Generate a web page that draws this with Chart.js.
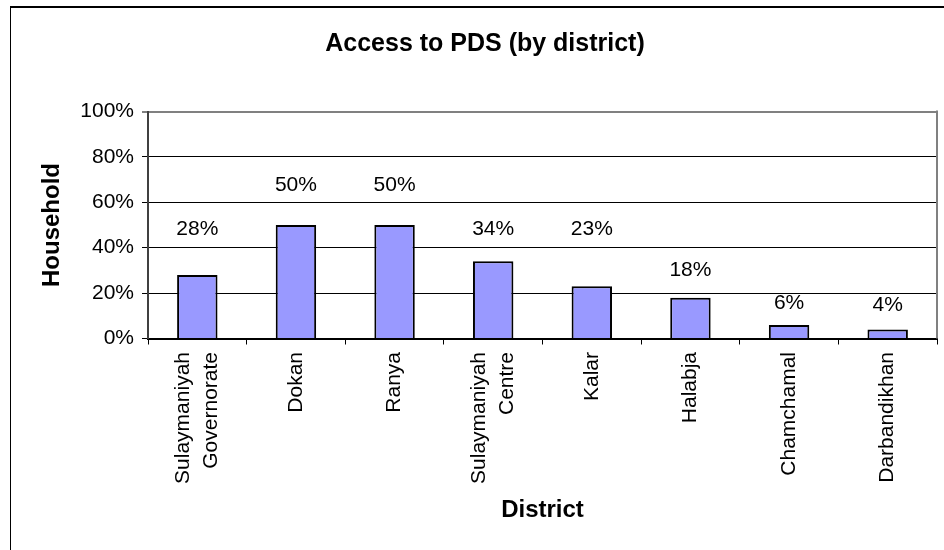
<!DOCTYPE html>
<html>
<head>
<meta charset="utf-8">
<script src="https://cdn.jsdelivr.net/npm/chart.js@4.4.1/dist/chart.umd.min.js"></script>
<style>
html,body{margin:0;padding:0;background:#fff;}
#wrap{width:944px;height:550px;position:relative;}
</style>
</head>
<body>
<div id="wrap"><canvas id="c"></canvas></div>
<script>
const categories = [["Sulaymaniyah","Governorate"],"Dokan","Ranya",["Sulaymaniyah","Centre"],"Kalar","Halabja","Chamchamal","Darbandikhan"];
const householdPct = [28,50,50,34,23,18,6,4];
// vertical level (in % axis units) at which each value label sits
const labelLevels = [48,67.6,67.6,48,48,30.2,15.6,14.5];
const yTicks = [0,20,40,60,80,100];

const FONT = '"Liberation Sans", Arial, Helvetica, sans-serif';
Chart.defaults.font.family = FONT;
Chart.defaults.color = '#000';

const framePlugin = {
  id: 'frame',
  beforeDraw(chart) {
    const ctx = chart.ctx;
    ctx.save();
    ctx.fillStyle = '#fff';
    ctx.fillRect(0, 0, chart.width, chart.height);
    ctx.restore();
  },
  afterDraw(chart) {
    const {ctx, chartArea: a} = chart;
    ctx.save();
    ctx.fillStyle = '#000';
    ctx.fillRect(10, 6, chart.width - 10, 2);
    ctx.fillRect(10, 6, 1, chart.height - 6);
    ctx.strokeStyle = '#808080';
    ctx.lineWidth = 2;
    ctx.beginPath();
    ctx.moveTo(a.right, a.top - 1);
    ctx.lineTo(a.right, a.bottom);
    ctx.stroke();
    ctx.restore();
  }
};

const xLabelPlugin = {
  id: 'xLabels',
  afterDraw(chart) {
    const {ctx} = chart;
    const x = chart.scales.x;
    ctx.save();
    ctx.font = '21px ' + FONT;
    ctx.fillStyle = '#000';
    ctx.textAlign = 'right';
    ctx.textBaseline = 'middle';
    chart.data.labels.forEach((lab, i) => {
      const lines = Array.isArray(lab) ? lab : [lab];
      const px = x.getPixelForValue(i);
      lines.forEach((t, j) => {
        const off = (j - (lines.length - 1) / 2) * 28;
        ctx.save();
        ctx.translate(px + off, x.top + 13.5);
        ctx.rotate(-Math.PI / 2);
        ctx.fillText(t, 0, 0);
        ctx.restore();
      });
    });
    ctx.restore();
  }
};

const valueLabelPlugin = {
  id: 'valueLabels',
  afterDatasetsDraw(chart) {
    const {ctx} = chart;
    const y = chart.scales.y;
    const meta = chart.getDatasetMeta(0);
    ctx.save();
    ctx.font = '21px ' + FONT;
    ctx.fillStyle = '#000';
    ctx.textAlign = 'center';
    ctx.textBaseline = 'middle';
    meta.data.forEach((bar, i) => {
      ctx.fillText(householdPct[i] + '%', bar.x, y.getPixelForValue(labelLevels[i]));
    });
    ctx.restore();
  }
};

new Chart(document.getElementById('c'), {
  type: 'bar',
  data: {
    labels: categories,
    datasets: [{
      data: householdPct,
      backgroundColor: '#9999FF',
      borderColor: '#000',
      borderWidth: 2,
      borderSkipped: 'bottom',
      barPercentage: 0.41,
      categoryPercentage: 1.0
    }]
  },
  options: {
    responsive: true,
    maintainAspectRatio: false,
    animation: false,
    devicePixelRatio: 1,
    layout: {padding: {left: 33, right: 7, top: 0, bottom: 0}},
    plugins: {
      legend: {display: false},
      tooltip: {enabled: false},
      title: {
        display: true,
        text: 'Access to PDS (by district)',
        color: '#000',
        font: {size: 25, weight: 'bold', lineHeight: 1.2},
        padding: {top: 29, bottom: 52.5}
      }
    },
    scales: {
      x: {
        offset: true,
        grid: {display: true, drawOnChartArea: false, drawTicks: true, tickLength: 6, color: '#000', tickColor: '#000', offset: true, lineWidth: 1},
        border: {display: true, color: '#000', width: 2},
        ticks: {display: false},
        title: {display: true, text: 'District', color: '#000', font: {size: 24, weight: 'bold', lineHeight: 1.2}, padding: {top: 0, bottom: 25}},
        afterFit: s => { s.height = 211.5; }
      },
      y: {
        min: 0,
        max: 100,
        afterBuildTicks: s => { s.ticks = yTicks.map(v => ({value: v})); },
        ticks: {callback: v => v + '%', color: '#000', font: {size: 21}, padding: 8},
        grid: {
          color: c => (c.tick && c.tick.value === 100) ? '#808080' : '#000',
          lineWidth: c => (c.tick && c.tick.value === 100) ? 2 : 1,
          tickColor: '#000', tickLength: 6, tickWidth: 1
        },
        border: {color: '#404040', width: 2},
        title: {display: true, text: 'Household', color: '#000', font: {size: 24, weight: 'bold', lineHeight: 1.2}, padding: {top: 4.6, bottom: 0}},
        afterFit: s => { s.width = 115; }
      }
    }
  },
  plugins: [framePlugin, xLabelPlugin, valueLabelPlugin]
});
</script>
</body>
</html>
